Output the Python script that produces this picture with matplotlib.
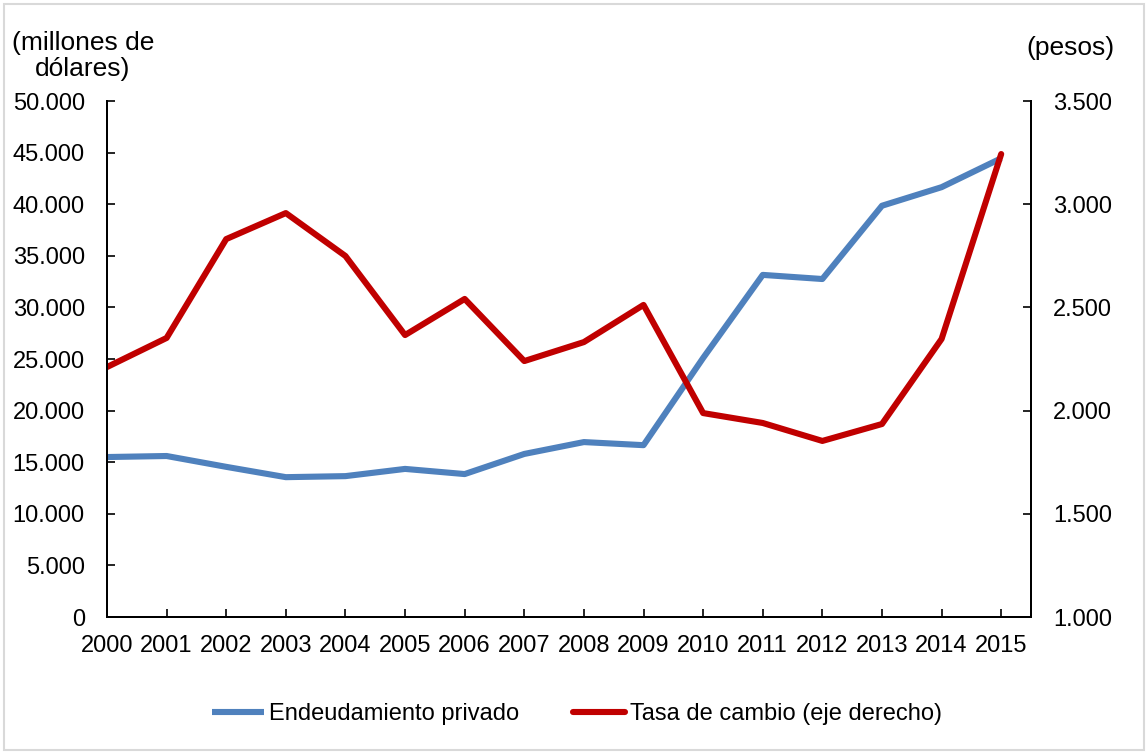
import numpy as np
import matplotlib
matplotlib.use('Agg')
import matplotlib.pyplot as plt
from matplotlib.ticker import FuncFormatter, MultipleLocator
from matplotlib.patches import Rectangle

plt.rcParams['font.family'] = ['Liberation Sans', 'DejaVu Sans']

years = list(range(2000, 2016))
# endeudamiento privado, millones de dólares
deuda = [15500, 15600, 14550, 13550, 13650, 14350, 13850, 15800,
         16950, 16650, 25100, 33150, 32750, 39850, 41650, 44450]
# tasa de cambio, pesos por dólar
tasa = [2211, 2352, 2831, 2957, 2749, 2366, 2541, 2240,
        2332, 2512, 1988, 1940, 1853, 1935, 2347, 3243]

blue = '#4F81BD'
red = '#C00000'
fs = 17
fs_tit = 19


def miles(v, pos=None):
    return f'{v:,.0f}'.replace(',', '.')


fig = plt.figure(figsize=(11.46, 7.52), dpi=100)
ax = fig.add_axes([107 / 1146, 1 - 617 / 752, (1031 - 107) / 1146, (617 - 101) / 752])
ax2 = ax.twinx()

l1, = ax.plot(years, deuda, color=blue, lw=4.4, solid_capstyle='butt',
              label='Endeudamiento privado')
l2, = ax2.plot(years, tasa, color=red, lw=4.4, solid_capstyle='round',
               label='Tasa de cambio (eje derecho)')

ax.set_xlim(2000, 2015.5)
ax.set_ylim(0, 50000)
ax2.set_ylim(1000, 3500)
ax.yaxis.set_major_locator(MultipleLocator(5000))
ax2.yaxis.set_major_locator(MultipleLocator(500))
ax.yaxis.set_major_formatter(FuncFormatter(miles))
ax2.yaxis.set_major_formatter(FuncFormatter(miles))
ax.set_xticks(years)
ax.set_xticklabels([str(y) for y in years])

for a in (ax, ax2):
    a.spines['top'].set_visible(False)
    for s in a.spines.values():
        s.set_linewidth(1.4)
ax.tick_params(axis='x', direction='in', length=6, width=1.2, pad=13, labelsize=fs)
ax.tick_params(axis='y', direction='in', length=6, width=1.2, pad=16, labelsize=fs)
ax2.tick_params(axis='y', direction='in', length=6, width=1.2, pad=16, labelsize=fs)

fig.text(83 / 1146, 1 - 56 / 752, '(millones de\ndólares)', ha='center', va='center',
         fontsize=fs_tit, linespacing=1.12)
fig.text(1070 / 1146, 1 - 48 / 752, '(pesos)', ha='center', va='center', fontsize=fs_tit)

fig.legend([l1, l2], [l1.get_label(), l2.get_label()], loc='center',
           bbox_to_anchor=(577 / 1146, 1 - 714 / 752), ncol=2, frameon=False,
           fontsize=fs, handlelength=2.2, handletextpad=0.2, columnspacing=2.3)

# marco gris alrededor del gráfico
fig.patches.append(Rectangle((4 / 1146, 2 / 752), 1140 / 1146, 746 / 752,
                             transform=fig.transFigure, fill=False,
                             edgecolor='#d9d9d9', lw=1.5))

fig.savefig('out.png', dpi=100)
